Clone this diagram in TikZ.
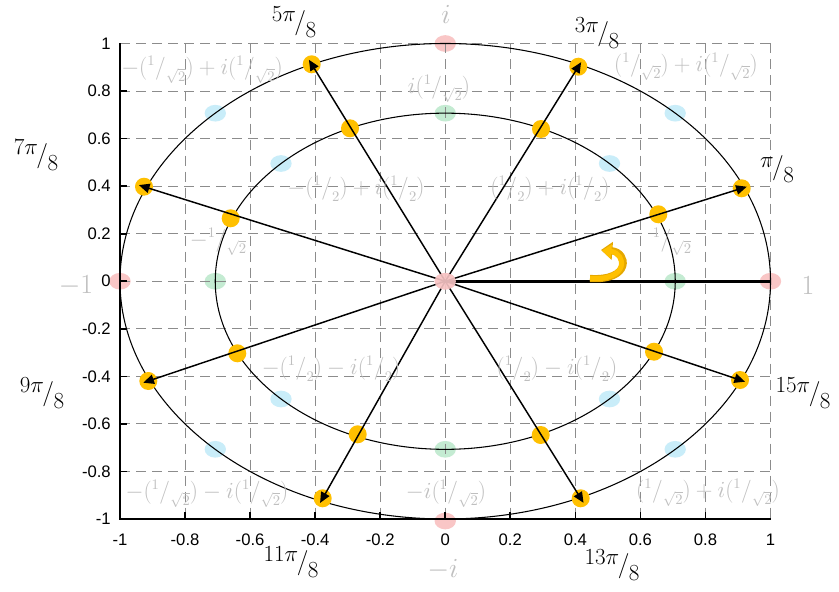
\documentclass[tikz,border=0pt]{standalone}
\usepackage{fontspec}
\newfontfamily\tickfont{Liberation Sans}
\usetikzlibrary{arrows.meta,shapes.geometric}
\definecolor{gold}{HTML}{FFC000}
\definecolor{golddark}{HTML}{E5A800}
\definecolor{pinkdot}{HTML}{F9C6C6}
\definecolor{greendot}{HTML}{C4EBD2}
\definecolor{bluedot}{HTML}{C9EDF9}
\definecolor{lbl}{HTML}{BFBFBF}
\definecolor{gridc}{HTML}{8C8C8C}
\newcommand{\myfr}[2]{\mathord{\raisebox{0.42em}{$\scriptstyle #1$}\kern0.02em/\kern0.02em\raisebox{-0.32em}{$\scriptstyle #2$}}}
\newcommand{\anglab}[2]{\raisebox{0.3em}{$#1$}\kern-0.06em/\kern-0.02em\raisebox{-0.3em}{$#2$}}
\tikzset{
  gridline/.style={gridc, line width=0.75pt, dash pattern=on 7.5pt off 4.5pt},
  axisline/.style={black, line width=1.5pt},
  ring/.style={black, line width=0.8pt},
  vec/.style={black, line width=1.1pt, -{Triangle[length=8pt,width=7pt]}, shorten >=-4pt},
  golddot/.style={circle, fill=gold, minimum size=13.5pt, inner sep=0pt},
  pdot/.style={ellipse, fill=#1, minimum width=16pt, minimum height=12.5pt, inner sep=0pt},
  glabel/.style={text=lbl, font=\fontsize{16}{19}\selectfont, inner sep=0pt},
  biglabel/.style={text=lbl, font=\fontsize{21}{24}\selectfont, inner sep=0pt},
  anglabel/.style={font=\fontsize{19}{22}\selectfont, inner sep=0pt},
  ticklab/.style={font=\tickfont\fontsize{12.5}{14}\selectfont, inner sep=0pt},
}
\begin{document}
\begin{tikzpicture}[x=0.75pt,y=-0.75pt]
\useasboundingbox (0,0) rectangle (839,592);
\fill[white] (0,0) rectangle (839,592);
\coordinate (O) at (445.25,281.25);
% pastel reference dots
\foreach \n/\px/\py/\c in {c0/445.25/281.25/pinkdot, pr/770.5/281.25/pinkdot, pl/120/281.25/pinkdot, pt/445.25/43.5/pinkdot, pb/445.25/521/pinkdot,
  gr/675.2/281.25/greendot, gl/215.3/281.25/greendot, gt/445.25/113.2/greendot, gb/445.25/449.3/greendot,
  b1/675.2/113.2/bluedot, b2/215.3/113.2/bluedot, b3/215.3/449.3/bluedot, b4/675.2/449.3/bluedot,
  b5/609.5/163.5/bluedot, b6/281/163.5/bluedot, b7/281/399/bluedot, b8/609.5/399/bluedot}
  \node[pdot=\c] (\n) at (\px,\py) {};
% grid
\foreach \i in {-4,...,5} {
  \draw[gridline] ({445.25+65.025*\i},43.5) -- ({445.25+65.025*\i},519);
}
\foreach \i in {-4,...,5} {
  \draw[gridline] (120,{281.25-47.55*\i}) -- (770.5,{281.25-47.55*\i});
}
% axes
\draw[axisline] (120,43.5) -- (120,519) -- (770.5,519);
\foreach \i in {-4,...,4} {
  \draw[axisline,line width=1.2pt] ({445.25+65.025*\i},519) -- ({445.25+65.025*\i},512);
  \draw[axisline,line width=1.2pt] (120,{281.25-47.55*\i}) -- (127,{281.25-47.55*\i});
}
% tick labels
\foreach \v [count=\k] in {1,0.8,0.6,0.4,0.2,0,-0.2,-0.4,-0.6,-0.8,-1}
  \node[ticklab,anchor=east] (yl\k) at (111,{281.25-237.75*\v}) {\v};
\foreach \v [count=\k] in {-1,-0.8,-0.6,-0.4,-0.2,0,0.2,0.4,0.6,0.8,1}
  \node[ticklab] (xl\k) at ({445.25+325.25*\v},540) {\v};
% circles
\draw[ring] (O) ellipse [x radius=325.25, y radius=237.75];
\draw[ring] (O) ellipse [x radius=230, y radius=168.1];
% gold dots
\foreach \n/\px/\py in {o1/741.7/188.3, o3/578.3/66.7, o5/311.7/64.3, o7/144/186.7, o9/148.3/381, o11/322.7/498.3, o13/580.7/498.3, o15/740/380,
  i1/658.3/214.3, i3/541/129, i5/350/128.3, i7/230.7/218.3, i9/237.3/353.3, i11/357.7/434.3, i13/540.7/435, i15/654/351.7}
  \node[golddot] (\n) at (\px,\py) {};
% vectors
\foreach \n in {o1,o3,o5,o7,o9,o11,o13,o15}
  \draw[vec] (O) -- (\n.center);
\draw[black, line width=2.4pt] (O) -- (pr.center);
\node[pdot=pinkdot, opacity=0.9] (c0b) at (O) {};
% rotation arrow
\draw[golddark, line width=5.4pt, -{Triangle[length=8.5pt,width=13pt]}] (590,278.5) .. controls (632,281) and (628,252) .. (601,250);
\draw[gold, line width=3.8pt, -{Triangle[length=7pt,width=10.5pt]}] (590,278.5) .. controls (630,281) and (626,253) .. (602,250.5);
% grey labels
\node[biglabel] (li) at (446,14) {$i$};
\node[biglabel] (lmi) at (443,570) {$-i$};
\node[biglabel] (lm1) at (76,286) {$-1$};
\node[biglabel] (l1) at (808,286) {$1$};
\node[glabel] (g1) at (202,70) {$-(\myfr{1}{\sqrt2})+i(\myfr{1}{\sqrt2})$};
\node[glabel] (g2) at (439,89) {$i(\myfr{1}{\sqrt2})$};
\node[glabel] (g3) at (686,67) {$(\myfr{1}{\sqrt2})+i(\myfr{1}{\sqrt2})$};
\node[glabel] (g4) at (356,189) {$-(\myfr{1}{2})+i(\myfr{1}{2})$};
\node[glabel] (g5) at (550,189) {$(\myfr{1}{2})+i(\myfr{1}{2})$};
\node[glabel] (g6) at (218,242) {$-\myfr{1}{\sqrt2}$};
\node[glabel] (g7) at (672,242) {$\myfr{1}{\sqrt2}$};
\node[glabel] (g8) at (331,369) {$-(\myfr{1}{2})-i(\myfr{1}{2})$};
\node[glabel] (g9) at (557,369) {$(\myfr{1}{2})-i(\myfr{1}{2})$};
\node[glabel] (g10) at (207,494) {$-(\myfr{1}{\sqrt2})-i(\myfr{1}{\sqrt2})$};
\node[glabel] (g11) at (446,494) {$-i(\myfr{1}{\sqrt2})$};
\node[glabel] (g12) at (708,493) {$(\myfr{1}{\sqrt2})+i(\myfr{1}{\sqrt2})$};
% angle labels
\node[anglabel] (a1) at (777,169) {\anglab{\pi}{8}};
\node[anglabel] (a3) at (597,33) {\anglab{3\pi}{8}};
\node[anglabel] (a5) at (294,22) {\anglab{5\pi}{8}};
\node[anglabel] (a7) at (36,155) {\anglab{7\pi}{8}};
\node[anglabel] (a9) at (42,393) {\anglab{9\pi}{8}};
\node[anglabel] (a11) at (291,562) {\anglab{11\pi}{8}};
\node[anglabel] (a13) at (612,565) {\anglab{13\pi}{8}};
\node[anglabel] (a15) at (803,393) {\anglab{15\pi}{8}};
\end{tikzpicture}
\end{document}
